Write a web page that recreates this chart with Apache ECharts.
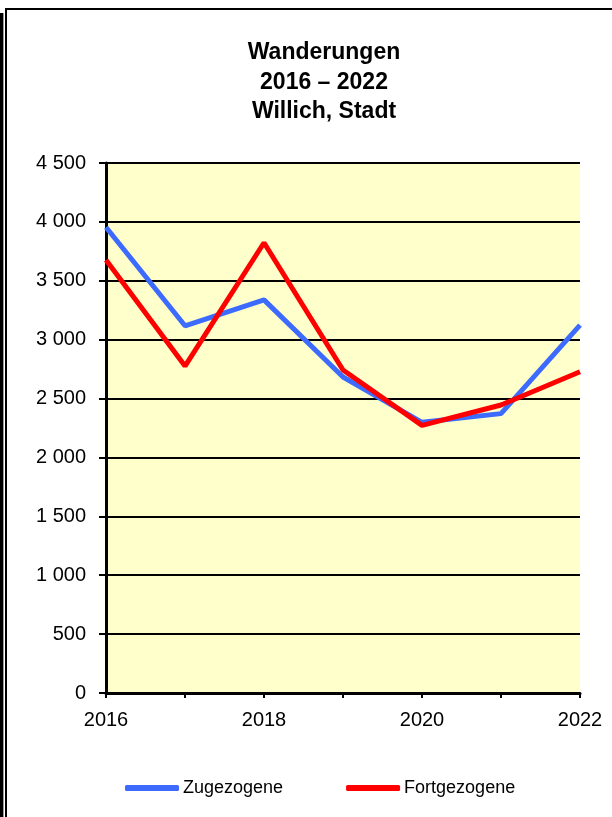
<!DOCTYPE html>
<html lang="de">
<head>
    <meta charset="UTF-8">
    <title>Wanderungen</title>
    <script src="https://cdn.jsdelivr.net/npm/echarts@6/dist/echarts.min.js"></script>
    <style>
        html, body { margin: 0; padding: 0; background: #fff; }
    </style>
</head>
<body>
<div id="main" style="width: 612px;height:817px;"></div>
<script>
    // Daten
    var jahre = ['2016', '2017', '2018', '2019', '2020', '2021', '2022'];
    var zugezogene = [3955, 3118, 3338, 2683, 2298, 2372, 3124];
    var fortgezogene = [3676, 2776, 3823, 2742, 2272, 2445, 2728];
    var yTicks = [0, 500, 1000, 1500, 2000, 2500, 3000, 3500, 4000, 4500];

    var myChart = echarts.init(document.getElementById('main'));

    var option = {
        backgroundColor: '#fff',
        animation: false,
        textStyle: { fontFamily: 'Liberation Sans, Arial, sans-serif' },
        title: {
            text: 'Wanderungen\n2016 – 2022\nWillich, Stadt',
            left: 319,
            top: 33,
            textAlign: 'center',
            textStyle: {
                fontSize: 23,
                fontWeight: 'bold',
                color: '#000',
                lineHeight: 29.5
            }
        },
        graphic: [
            // Rahmen
            { type: 'rect', shape: { x: 6, y: 9, width: 620, height: 830 },
              style: { fill: null, stroke: '#000', lineWidth: 2 } },
            { type: 'line', shape: { x1: 1.7, y1: 13, x2: 1.7, y2: 817 },
              style: { stroke: '#000', lineWidth: 3.4 } }
        ],
        legend: {
            top: 774,
            left: 120,
            itemGap: 63,
            itemWidth: 54,
            itemHeight: 6,
            icon: 'roundRect',
            textStyle: { fontSize: 18, color: '#000', padding: [0, 0, 0, -1] },
            data: ['Zugezogene', 'Fortgezogene']
        },
        grid: {
            left: 106,
            right: 32,
            top: 163,
            bottom: 124,
            show: true,
            backgroundColor: '#FFFFCC',
            borderWidth: 0
        },
        xAxis: {
            type: 'category',
            data: jahre,
            boundaryGap: false,
            axisLine: { lineStyle: { color: '#000', width: 3 } },
            axisTick: { show: true, length: 5, interval: 0, lineStyle: { color: '#000', width: 2 } },
            axisLabel: {
                interval: 1,
                fontSize: 20,
                color: '#000',
                margin: 17
            },
            splitLine: { show: false }
        },
        yAxis: {
            type: 'value',
            min: yTicks[0],
            max: yTicks[yTicks.length - 1],
            interval: 500,
            axisLine: { show: true, lineStyle: { color: '#000', width: 3 } },
            axisTick: { show: true, length: 7, lineStyle: { color: '#000', width: 2 } },
            axisLabel: {
                fontSize: 20,
                color: '#000',
                margin: 20,
                formatter: function (v) {
                    return String(v).replace(/\B(?=(\d{3})+(?!\d))/g, ' ');
                }
            },
            splitLine: { show: true, lineStyle: { color: '#000', width: 2 } }
        },
        series: [
            {
                name: 'Zugezogene',
                type: 'line',
                data: zugezogene,
                symbol: 'none',
                color: '#3D6BFF',
                lineStyle: { width: 5, color: '#3D6BFF' },
                z: 3
            },
            {
                name: 'Fortgezogene',
                type: 'line',
                data: fortgezogene,
                symbol: 'none',
                color: '#FF0000',
                lineStyle: { width: 5, color: '#FF0000' },
                z: 4
            }
        ]
    };

    myChart.setOption(option);
</script>
</body>
</html>
